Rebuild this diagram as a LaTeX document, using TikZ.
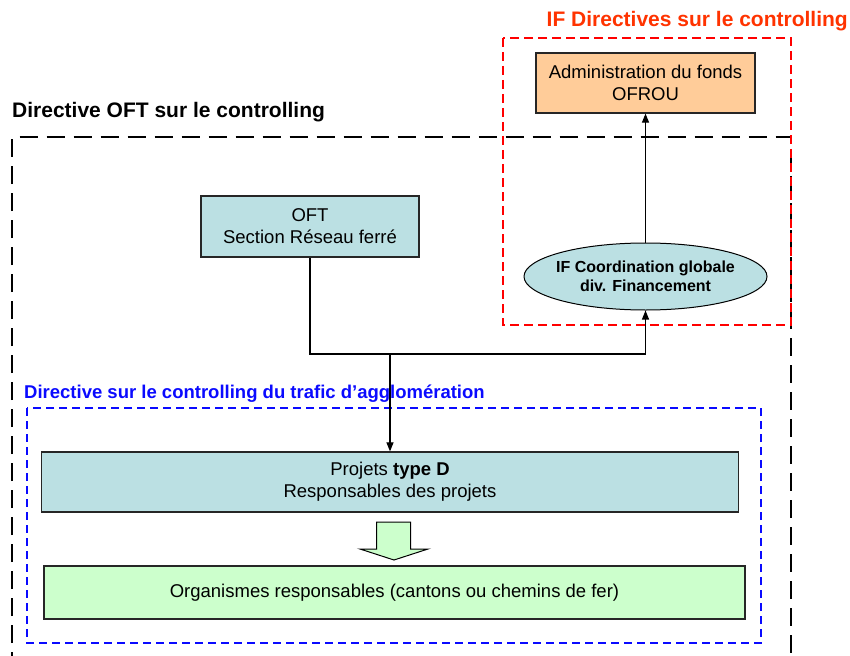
\documentclass[tikz,border=0pt]{standalone}
\usepackage{fontspec}
\setmainfont{Liberation Sans}
\usetikzlibrary{shapes.geometric,arrows.meta}
\definecolor{teal}{RGB}{187,224,227}
\definecolor{orangefill}{RGB}{255,204,153}
\definecolor{greenfill}{RGB}{204,255,204}
\definecolor{redtitle}{RGB}{255,51,0}
\definecolor{bluet}{RGB}{10,10,255}
\tikzset{
  boxnode/.style={draw=black!85, line width=1.2pt, minimum height=60pt, inner sep=0pt, align=center, font=\fontsize{18.5}{22}\selectfont},
  ellnode/.style={ellipse, draw=black, line width=1pt, fill=teal, inner xsep=-4pt, inner ysep=0pt, minimum width=243pt, minimum height=67pt, align=center, font=\bfseries\fontsize{16}{19}\selectfont},
  titlenode/.style={inner sep=0pt, font=\bfseries\fontsize{21}{25}\selectfont},
  arr/.style={line width=1.1pt, -{Triangle[length=9pt,width=7pt]}},
  blackdash/.style={line width=2pt, dash pattern=on 18pt off 9pt},
  reddash/.style={line width=1.8pt, red, dash pattern=on 9pt off 5pt},
  bluedash/.style={line width=1.5pt, bluet, dash pattern=on 8pt off 5pt},
}
\begin{document}
\begin{tikzpicture}[x=1pt,y=-1pt]
\useasboundingbox (0,0) rectangle (850,655);
\clip (0,0) rectangle (850,655);
% frames
\draw[blackdash] (12,670) -- (12,137.5) -- (791,137.5) -- (791,670);
\draw[reddash] (503,38) rectangle (791,325);
\draw[bluedash] (27,408) rectangle (761,643);
% titles
\node[titlenode, text=redtitle, anchor=base east] (t1) at (848,27) {IF Directives sur le controlling};
\node[titlenode, text=black, anchor=base west] (t2) at (12,118) {Directive OFT sur le controlling};
\node[inner sep=0pt, font=\bfseries\fontsize{18.5}{22}\selectfont, text=bluet, anchor=base west] (t3) at (24,398) {Directive sur le controlling du trafic d’agglomération};
% nodes
\node[boxnode, fill=orangefill, minimum width=219pt] (admin) at (645.5,83) {Administration du fonds\\OFROU};
\node[boxnode, fill=teal, minimum width=218pt, minimum height=61pt] (oft) at (310,226.5) {OFT\\Section Réseau ferré};
\node[ellnode] (ell) at (645.5,276.5) {IF Coordination globale\\div. Financement};
\node[boxnode, fill=teal, minimum width=697pt] (proj) at (390,482) {Projets \textbf{type D}\\Responsables des projets};
\node[boxnode, fill=greenfill, minimum width=701pt, minimum height=53pt] (org) at (394.5,592.5) {Organismes responsables (cantons ou chemins de fer)};
% connectors
\coordinate (jn) at (390,354);
\draw[arr] (oft.south) -- (oft.south |- jn) -- (ell.south |- jn) -- (ell.south);
\draw[arr] (jn) -- (proj.north);
\draw[arr] (ell.north) -- (admin.south);
% block arrow
\draw[line width=1pt, fill=greenfill] (376.5,522) -- (410.5,522) -- (410.5,549) -- (428,549) -- (394,560) -- (360,549) -- (376.5,549) -- cycle;
\end{tikzpicture}
\end{document}
